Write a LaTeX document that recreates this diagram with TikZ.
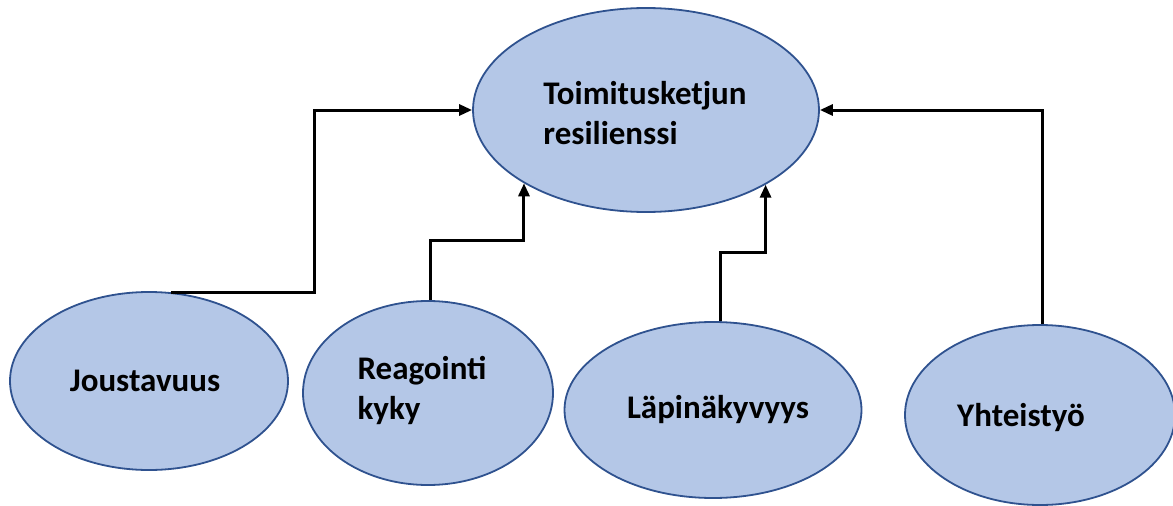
\documentclass[tikz,border=0pt]{standalone}
\usepackage{fontspec}
\setmainfont{Carlito}
\usetikzlibrary{shapes.geometric,arrows.meta,calc}
\definecolor{blobfill}{HTML}{B4C7E7}
\definecolor{blobline}{HTML}{2F528F}
\begin{document}
\begin{tikzpicture}[x=1pt,y=-1pt,
  blob/.style={ellipse, draw=blobline, fill=blobfill, line width=1.8pt, inner sep=0pt},
  txt/.style={font=\fontsize{33}{40}\selectfont\bfseries, align=left, inner sep=0pt},
  conn/.style={draw=black, line width=3pt, -{Triangle[length=13pt,width=11pt]}}]
\useasboundingbox (0,0) rectangle (1173,506);
\node[blob, minimum width=346pt, minimum height=204pt] (t) at (646,110) {};
\node[blob, minimum width=278pt, minimum height=178pt] (j) at (149,381) {};
\node[blob, minimum width=250pt, minimum height=184pt] (r) at (428,393) {};
\node[blob, minimum width=297pt, minimum height=176pt] (l) at (713,410) {};
\node[blob, minimum width=270pt, minimum height=180pt] (y) at (1040,415) {};
\node[txt] (tt) at (645,113) {Toimitusketjun\\resilienssi};
\node[txt] (jt) at (145,381) {Joustavuus};
\node[txt] (rt) at (422,390) {Reagointi\\kyky};
\node[txt] (lt) at (718,410) {Läpinäkyvyys};
\node[txt] (yt) at (1021,418) {Yhteistyö};
\draw[conn] (j.76) -| ([xshift=-158pt]t.west) -- (t.west);
\draw[conn] ([xshift=2pt]r.north) -- ++(0,-60) -| (t.211);
\draw[conn] ([xshift=7pt]l.north) -- ++(0,-69) -| (t.328);
\draw[conn] ([xshift=2pt]y.north) |- (t.east);
\end{tikzpicture}
\end{document}
